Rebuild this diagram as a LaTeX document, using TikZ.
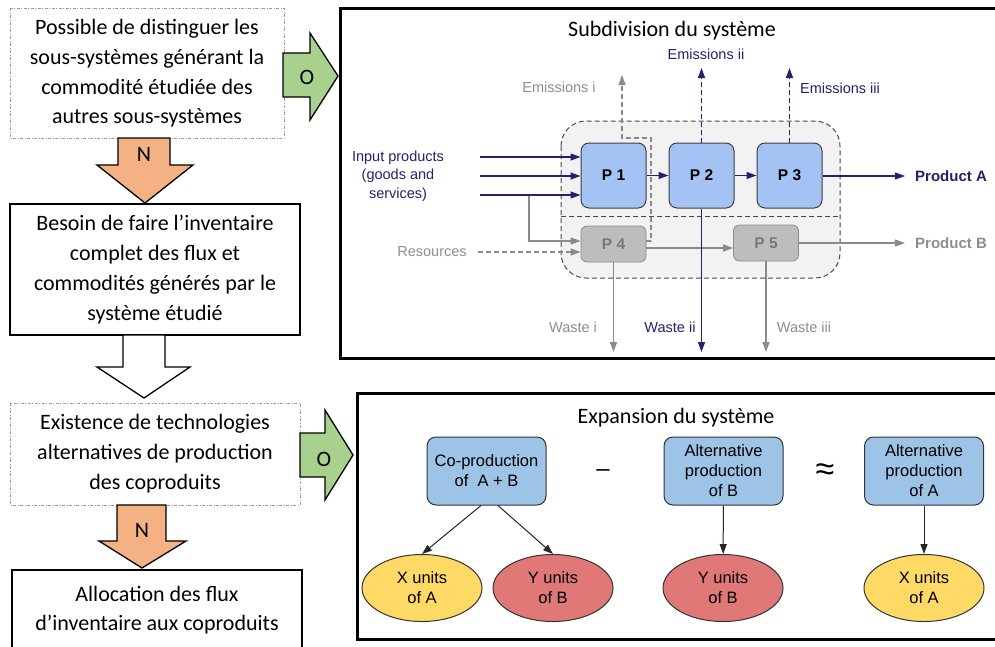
\documentclass[tikz,border=0pt]{standalone}
\usepackage{fontspec}
\setmainfont{Carlito}
\newfontfamily\arial{Liberation Sans}
\usetikzlibrary{arrows.meta,shapes.geometric}
\definecolor{navy}{HTML}{22226E}
\definecolor{gtext}{HTML}{8E8E8E}
\definecolor{gline}{HTML}{8A8A8A}
\definecolor{pblue}{HTML}{A4C2F4}
\definecolor{bblue}{HTML}{9DC3E6}
\definecolor{pgray}{HTML}{BDBDBD}
\definecolor{ylw}{HTML}{FFD966}
\definecolor{rd}{HTML}{E07878}
\definecolor{grn}{HTML}{A9D18E}
\definecolor{org}{HTML}{F4B183}
\definecolor{panelbg}{HTML}{F2F2F2}
\tikzset{
  lefttxt/.style={align=center, font=\fontsize{22}{29.7}\selectfont, inner sep=0pt},
  dashdotbox/.style={draw=gray!80, line width=0.7pt, dash pattern=on 3pt off 1.5pt on 1pt off 1.5pt},
  solidbox/.style={draw=black, line width=1.5pt},
  blockarrow/.style={draw=black, line width=1.3pt, line join=miter},
  panel/.style={draw=black, line width=3pt},
  ttl/.style={font=\fontsize{22}{26}\selectfont},
  pbox/.style={draw=black!75, fill=pblue, rounded corners=8pt, minimum width=65pt, minimum height=65pt, line width=1pt, font=\arial\bfseries\fontsize{15.5}{18}\selectfont},
  gbox/.style={draw=gray!90, fill=pgray, rounded corners=6pt, minimum width=65pt, minimum height=36pt, line width=0.8pt, text=gray!95!black, font=\arial\bfseries\fontsize{15.5}{18}\selectfont},
  lbl/.style={font=\arial\fontsize{14.5}{18}\selectfont, inner sep=1pt, align=center},
  ntip/.style={-{Triangle[length=10pt,width=7pt]}, line width=1.2pt},
  navyflow/.style={ntip, draw=navy},
  grayflow/.style={ntip, draw=gline},
  bbox/.style={draw=black!80, fill=bblue, rounded corners=9pt, minimum width=119pt, minimum height=68pt, line width=1pt, align=center, font=\arial\fontsize{16.5}{20}\selectfont},
  ell/.style={ellipse, draw=black!80, line width=1pt, minimum width=120pt, minimum height=67pt, inner sep=0pt, align=center, font=\arial\fontsize{16.5}{20}\selectfont},
  barrow/.style={-{Triangle[length=10pt,width=7pt]}, line width=1pt, draw=black!85}
}
\begin{document}
\begin{tikzpicture}[x=1pt,y=-1pt]
\clip (0,0) rectangle (995,646);
\fill[white] (0,0) rectangle (995,646);

% ---------------- left column ----------------
\draw[dashdotbox] (10,8) rectangle (284,138);
\node[lefttxt] (q1) at (147,73.5) {Possible de distinguer les\\sous-systèmes générant la\\commodité étudiée des\\autres sous-systèmes};

\draw[blockarrow, fill=org] (118,138) -- (170,138) -- (170,165) -- (193,165) -- (145,203) -- (97,165) -- (118,165) -- cycle;
\node[font=\fontsize{22}{26}\selectfont] (n1) at (144,154) {N};

\draw[solidbox] (10,204) rectangle (300,335);
\node[lefttxt] (q2) at (155,269.5) {Besoin de faire l’inventaire\\complet des flux et\\commodités générés par le\\système étudié};

\draw[blockarrow, fill=white] (123,335) -- (165,335) -- (165,367) -- (190,367) -- (144,398) -- (97,367) -- (123,367) -- cycle;

\draw[dashdotbox] (10,403) rectangle (300,505);
\node[lefttxt] (q3) at (155,453.5) {Existence de technologies\\alternatives de production\\des coproduits};

\draw[blockarrow, fill=org] (117,505) -- (166,505) -- (166,541) -- (186,541) -- (142,568) -- (99,541) -- (117,541) -- cycle;
\node[font=\fontsize{22}{26}\selectfont] (n2) at (142,530) {N};

\draw[solidbox, line width=2pt] (12,570) rectangle (302,700);
\node[lefttxt] (q4) at (157,610) {Allocation des flux\\d’inventaire aux coproduits};

% green arrows
\draw[blockarrow, fill=grn] (283,53) -- (310,53) -- (310,33) -- (338,76) -- (310,120) -- (310,97) -- (283,97) -- cycle;
\node[font=\fontsize{22}{26}\selectfont] (o1) at (307,77) {O};
\draw[blockarrow, fill=grn] (300,433) -- (325,433) -- (325,410) -- (353,455) -- (325,500) -- (325,477) -- (300,477) -- cycle;
\node[font=\fontsize{22}{26}\selectfont] (o2) at (324,459) {O};

% ---------------- top panel ----------------
\draw[panel] (1005,8) -- (340,8) -- (340,358) -- (1005,358);
\node[ttl] (t1) at (672,31) {Subdivision du système};

\draw[dash pattern=on 5pt off 3pt, draw=black!70, line width=1pt, fill=panelbg, rounded corners=25pt] (561,121) rectangle (840,278);
\draw[dash pattern=on 5pt off 3pt, draw=black!70, line width=1pt] (561,216) -- (840,216);

\node[pbox] (p1) at (613.5,175.5) {P 1};
\node[pbox] (p2) at (701.5,175.5) {P 2};
\node[pbox] (p3) at (789.5,175.5) {P 3};
\node[gbox] (p4) at (613.5,244) {P 4};
\node[gbox] (p5) at (766,243) {P 5};

% inputs
\coordinate (in1) at (480,157);
\coordinate (in2) at (480,176);
\coordinate (in3) at (480,195);
\coordinate (br) at (529,195);
\node[lbl, text=navy, font=\arial\fontsize{14.5}{18.5}\selectfont] (inp) at (398,176) {Input products\\(goods and\\services)};
\draw[grayflow] (br) |- (p4.west |- 0,241);
\draw[navyflow] (in1) -- (p1.west |- in1);
\draw[navyflow] (in2) -- (p1.west |- in2);
\draw[navyflow] (in3) -- (p1.west |- in3);

% resources
\node[lbl, text=gtext] (res) at (432,252) {Resources};
\coordinate (resin) at (478,252);
\draw[grayflow, dash pattern=on 5pt off 3pt] (resin) -- (p4.west |- resin);

% emissions
\coordinate (e1) at (622,75);
\coordinate (e2) at (701.5,68);
\coordinate (e3) at (789.5,68);
\draw[grayflow, dash pattern=on 5pt off 3pt] (p4.east |- 0,241) -| (651,138) -| (e1);
\node[lbl, text=gtext] (em1) at (559,87) {Emissions i};
\draw[navyflow, dash pattern=on 5pt off 3pt] (p2.north) -- (e2);
\node[lbl, text=navy] (em2) at (706,54) {Emissions ii};
\draw[navyflow, dash pattern=on 5pt off 3pt] (p3.north) -- (e3);
\node[lbl, text=navy] (em3) at (840,88) {Emissions iii};

% flows
\draw[navyflow] (p1) -- (p2);
\draw[navyflow] (p2) -- (p3);
\node[lbl, text=navy, font=\arial\bfseries\fontsize{15}{18}\selectfont] (pa) at (951,176) {Product A};
\draw[navyflow] (p3.east |- pa) -- ([xshift=-9pt]pa.west);
\node[lbl, text=gtext, font=\arial\bfseries\fontsize{15}{18}\selectfont] (pb) at (951,243) {Product B};
\draw[grayflow] (p5.east |- pb) -- ([xshift=-9pt]pb.west);
\draw[grayflow] (p4.east |- 0,248) -- (p5.west |- 0,248);

% wastes
\coordinate (w1) at (613.5,352);
\coordinate (w2) at (701.5,352);
\coordinate (w3) at (766,352);
\draw[grayflow] (p4.south) -- (w1);
\draw[grayflow] (p5.south) -- (w3);
\draw[navyflow] (p2.south) -- (w2);
\node[lbl, text=gtext] (wl1) at (573,327) {Waste i};
\node[lbl, text=navy] (wl2) at (670,327) {Waste ii};
\node[lbl, text=gtext] (wl3) at (804,327) {Waste iii};

% ---------------- bottom panel ----------------
\draw[panel] (1005,393) -- (357,393) -- (357,639) -- (1005,639);
\node[ttl] (t2) at (676,418) {Expansion du système};

\node[bbox] (cp) at (486.5,471) {Co-production\\of\ \ A + B};
\node[bbox] (ab) at (723.5,471) {Alternative\\production\\of B};
\node[bbox] (aa) at (924,471) {Alternative\\production\\of A};
\node[font=\arial\fontsize{24}{24}\selectfont] (minus) at (603,473) {–};
\node[font=\arial\fontsize{34}{34}\selectfont] (approx) at (825,472) {≈};

\node[ell, fill=ylw] (xa1) at (422,588) {X units\\of A};
\node[ell, fill=rd] (yb1) at (553,588) {Y units\\of B};
\node[ell, fill=rd] (yb2) at (723,588) {Y units\\of B};
\node[ell, fill=ylw] (xa2) at (924,588) {X units\\of A};

\draw[barrow] ([xshift=-5.5pt]cp.south) -- (xa1.north);
\draw[barrow] ([xshift=11.5pt]cp.south) -- (yb1.north);
\draw[barrow] (ab) -- (yb2);
\draw[barrow] (aa) -- (xa2);
\end{tikzpicture}
\end{document}
